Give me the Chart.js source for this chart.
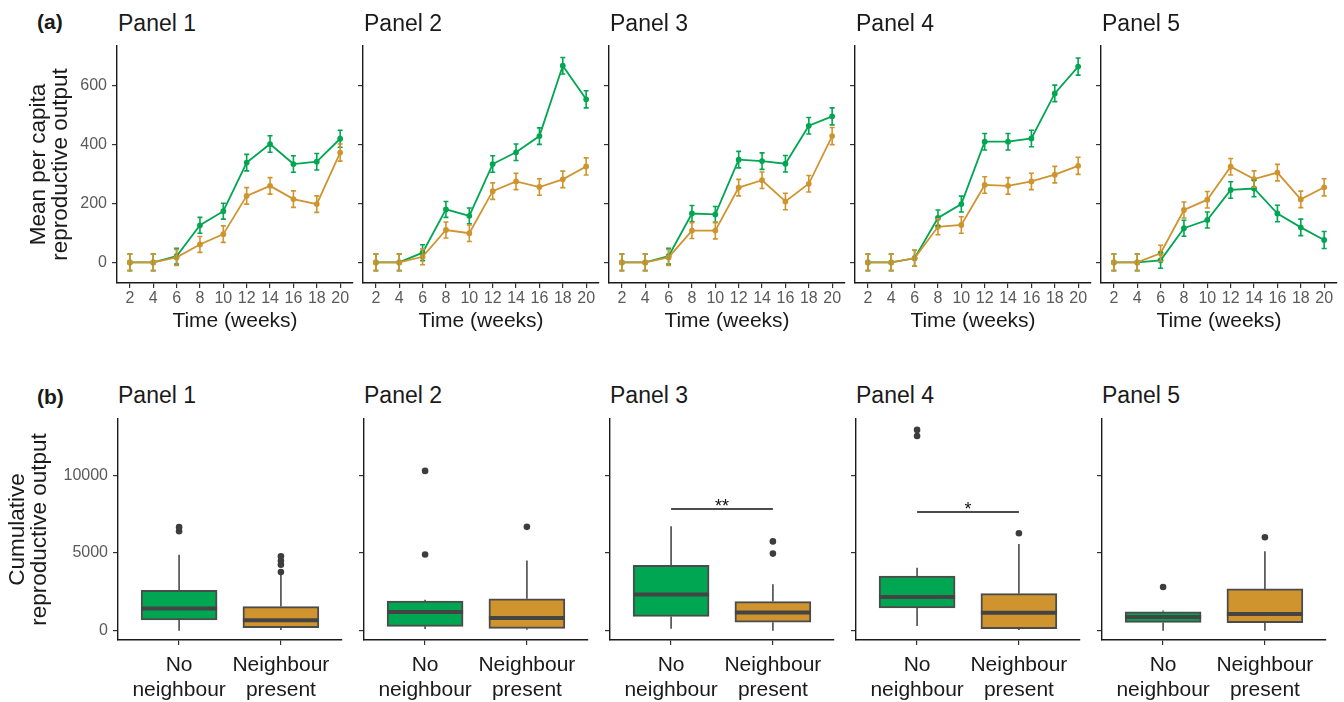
<!DOCTYPE html>
<html>
<head>
<meta charset="utf-8">
<script src="https://cdn.jsdelivr.net/npm/chart.js@4.4.1/dist/chart.umd.min.js"></script>
<style>
  body { margin: 0; background: #fff; font-family: "Liberation Sans", Arial, sans-serif; }
  #wrap { position: relative; width: 1344px; height: 702px; overflow: hidden; }
  canvas { position: absolute; }
  .lbl { position: absolute; white-space: nowrap; color: #1a1a1a; }
  .tag { font-weight: bold; font-size: 21px; line-height: 21px; }
  .ttl { font-size: 23px; line-height: 23px; }
</style>
</head>
<body>
<div id="wrap"></div>
<script>
// ---- data: (a) mean per capita output over time ----
const weeks = [2, 4, 6, 8, 10, 12, 14, 16, 18, 20];
const lineTicks = [0, 200, 400, 600];
const panelNames = ['Panel 1', 'Panel 2', 'Panel 3', 'Panel 4', 'Panel 5'];

const green1 = [0, 0, 21, 126, 174, 339, 402, 334, 342, 420];
const orange1 = [0, 0, 17, 61, 96, 226, 260, 215, 198, 373];
const green2 = [0, 0, 33, 180, 158, 334, 374, 429, 668, 554];
const orange2 = [0, 0, 19, 110, 99, 242, 275, 256, 282, 326];
const green3 = [0, 0, 21, 166, 163, 349, 344, 335, 464, 496];
const orange3 = [0, 0, 17, 108, 108, 254, 279, 207, 267, 429];
const green4 = [0, 0, 14, 151, 198, 410, 410, 421, 574, 665];
const orange4 = [0, 0, 14, 121, 127, 263, 260, 275, 298, 328];
const green5 = [0, 0, 7, 116, 144, 246, 251, 166, 119, 76];
const orange5 = [0, 0, 31, 178, 213, 325, 283, 305, 214, 255];

// standard errors (half length of the error bars)
const greenSE = [28, 28, 27, 27, 27, 28, 28, 28, 28, 29];
const orangeSE = [28, 28, 27, 27, 28, 28, 28, 28, 28, 29];

// ---- data: (b) cumulative output boxplots: [low whisker, q1, median, q3, high whisker] ----
const groups = [['No', 'neighbour'], ['Neighbour', 'present']];
const boxTicks = [0, 5000, 10000];
const boxNone = [
  [0, 700, 1420, 2590, 4880],
  [100, 280, 1200, 1905, 1990],
  [130, 915, 2320, 4210, 6720],
  [300, 1460, 2170, 3520, 4055],
  [0, 530, 875, 1215, 1300]
];
const boxNeighbour = [
  [40, 195, 670, 1550, 3600],
  [60, 150, 815, 2055, 4520],
  [0, 550, 1170, 1870, 2980],
  [40, 130, 1160, 2380, 5580],
  [0, 510, 1065, 2685, 5115]
];
const outNone = [[6400, 6660], [4900, 10280], [], [12530, 12920], [2815]];
const outNeighbour = [[3770, 4245, 4500, 4785], [6680], [4960, 5745], [6270], [6010]];
const sigStars = ['', '', '**', '*', ''];
const sigHeight = [null, null, 7830, 7640, null];

const greens = [green1, green2, green3, green4, green5];
const oranges = [orange1, orange2, orange3, orange4, orange5];

// ---- look ----
const FONT = '"Liberation Sans", Arial, Helvetica, sans-serif';
Chart.defaults.font.family = FONT;
const GREEN = '#00A651';
const ORANGE = '#D0942F';
const BOXLINE = '#4b4b4b';
const wrap = document.getElementById('wrap');

function addCanvas(left, top, w, h) {
  const c = document.createElement('canvas');
  c.width = w; c.height = h;
  c.style.left = left + 'px'; c.style.top = top + 'px';
  c.style.width = w + 'px'; c.style.height = h + 'px';
  wrap.appendChild(c);
  return c;
}

function addText(txt, cls, left, top) {
  const d = document.createElement('div');
  d.className = 'lbl ' + cls;
  d.textContent = txt;
  d.style.left = left + 'px';
  d.style.top = top + 'px';
  wrap.appendChild(d);
}

function yAxis(first, range, ticks, title, titlePad, titleLh, yw) {
  return {
    type: 'linear', min: range[0], max: range[1],
    afterBuildTicks: s => { s.ticks = ticks.map(v => ({ value: v })); },
    // fixed width, and no extra room for label overhang so every panel lines up
    afterFit: s => { s.width = yw; s.paddingTop = 0; s.paddingBottom = 0; },
    border: { display: true, color: '#1a1a1a', width: 1.4 },
    grid: { drawOnChartArea: false, drawTicks: true, tickLength: 5, color: '#333', lineWidth: 1.2 },
    ticks: { display: first, color: '#5a5a5a', padding: 5, font: { size: 16 }, callback: v => String(v) },
    title: { display: first, text: title, color: '#1a1a1a', font: { size: 22.5, lineHeight: titleLh }, padding: { top: titlePad, bottom: 0 } }
  };
}

// error bars for the time series
const errorBars = {
  id: 'errorBars',
  afterDatasetsDraw(chart) {
    const { ctx, scales: { x, y } } = chart;
    ctx.save();
    chart.data.datasets.slice().reverse().forEach(ds => {
      ctx.strokeStyle = ds.borderColor;
      ctx.lineWidth = 1.6;
      ds.data.forEach((p, i) => {
        const px = x.getPixelForValue(p.x);
        const lo = y.getPixelForValue(p.y - ds.errors[i]);
        const hi = y.getPixelForValue(p.y + ds.errors[i]);
        ctx.beginPath();
        ctx.moveTo(px, lo); ctx.lineTo(px, hi);
        ctx.moveTo(px - 2.5, lo); ctx.lineTo(px + 2.5, lo);
        ctx.moveTo(px - 2.5, hi); ctx.lineTo(px + 2.5, hi);
        ctx.stroke();
      });
    });
    ctx.restore();
  }
};

// whiskers, medians and significance bracket for the boxplots
const boxExtras = {
  id: 'boxExtras',
  beforeDatasetsDraw(chart, args, opts) {
    const { ctx, scales: { x, y } } = chart;
    ctx.save();
    ctx.strokeStyle = BOXLINE;
    ctx.lineWidth = 1.6;
    opts.stats.forEach((s, i) => {
      const px = x.getPixelForValue(i + 1);
      ctx.beginPath();
      ctx.moveTo(px, y.getPixelForValue(s[0])); ctx.lineTo(px, y.getPixelForValue(s[1]));
      ctx.moveTo(px, y.getPixelForValue(s[3])); ctx.lineTo(px, y.getPixelForValue(s[4]));
      ctx.stroke();
    });
    ctx.restore();
  },
  afterDatasetsDraw(chart, args, opts) {
    const { ctx, scales: { x, y } } = chart;
    ctx.save();
    ctx.strokeStyle = '#444';
    ctx.lineWidth = 4;
    opts.stats.forEach((s, i) => {
      const px = x.getPixelForValue(i + 1);
      const py = y.getPixelForValue(s[2]);
      ctx.beginPath();
      ctx.moveTo(px - opts.half, py); ctx.lineTo(px + opts.half, py);
      ctx.stroke();
    });
    if (opts.stars) {
      const py = y.getPixelForValue(opts.sigY);
      const x1 = x.getPixelForValue(1), x2 = x.getPixelForValue(2);
      ctx.strokeStyle = '#111';
      ctx.lineWidth = 1.6;
      ctx.beginPath();
      ctx.moveTo(x1, py); ctx.lineTo(x2, py);
      ctx.stroke();
      ctx.fillStyle = '#111';
      ctx.font = '18px ' + FONT;
      ctx.textAlign = 'center';
      ctx.textBaseline = 'alphabetic';
      ctx.fillText(opts.stars, (x1 + x2) / 2, py + 3);
    }
    ctx.restore();
  }
};

const toXY = vals => weeks.map((w, i) => ({ x: w, y: vals[i] }));

addText('(a)', 'tag', 37, 10.8);
addText('(b)', 'tag', 37, 385.8);

// ---- (a) row ----
for (let i = 0; i < 5; i++) {
  const areaLeft = 117 + 246 * i;
  const yw = i === 0 ? 117 : 10;
  const cv = addCanvas(areaLeft - yw, 40, yw + 236 + 8, 295);
  addText(panelNames[i], 'ttl', areaLeft + 1, 11.5);
  new Chart(cv, {
    type: 'line',
    data: {
      datasets: [
        { data: toXY(oranges[i]), errors: orangeSE, borderColor: ORANGE, backgroundColor: ORANGE,
          borderWidth: 1.8, pointRadius: 2, pointHoverRadius: 2 },
        { data: toXY(greens[i]), errors: greenSE, borderColor: GREEN, backgroundColor: GREEN,
          borderWidth: 1.8, pointRadius: 2, pointHoverRadius: 2 }
      ]
    },
    options: {
      responsive: false, animation: false, devicePixelRatio: 1,
      layout: { padding: { top: 6, right: 8, bottom: 0, left: 0 } },
      plugins: { legend: { display: false }, tooltip: { enabled: false } },
      scales: {
        x: {
          type: 'linear', min: 0.9, max: 21.1, offset: false,
          afterBuildTicks: s => { s.ticks = weeks.map(v => ({ value: v })); },
          afterFit: s => { s.height = 52; },
          border: { display: true, color: '#1a1a1a', width: 1.4 },
          grid: { offset: false, drawOnChartArea: false, drawTicks: true, tickLength: 5, color: '#333', lineWidth: 1.2 },
          ticks: { color: '#5a5a5a', padding: 1, autoSkip: false, maxRotation: 0, font: { size: 16 }, callback: v => String(v) },
          title: { display: true, text: 'Time (weeks)', color: '#1a1a1a', font: { size: 21 }, padding: { top: 0, bottom: 1.4 } }
        },
        y: yAxis(i === 0, [-70, 735], lineTicks, ['Mean per capita', 'reproductive output'], 27.25, 1.0, yw)
      }
    },
    plugins: [errorBars]
  });
}

// ---- (b) row ----
for (let i = 0; i < 5; i++) {
  const areaLeft = 118 + 246 * i;
  const yw = i === 0 ? 118 : 10;
  const cv = addCanvas(areaLeft - yw, 413, yw + 224 + 8, 289);
  addText(panelNames[i], 'ttl', areaLeft, 383.5);
  const outliers = outNone[i].map(v => ({ x: 1, y: v })).concat(outNeighbour[i].map(v => ({ x: 2, y: v })));
  const stats = [boxNone[i], boxNeighbour[i]];
  new Chart(cv, {
    type: 'bar',
    data: {
      datasets: [
        { type: 'scatter', data: outliers, pointRadius: 3.3, pointHoverRadius: 3.3,
          backgroundColor: '#3d3d3d', borderWidth: 0, order: 0 },
        { type: 'bar', data: stats.map((s, k) => ({ x: k + 1, y: [s[1], s[3]] })),
          backgroundColor: [GREEN, ORANGE], borderColor: BOXLINE, borderWidth: 2,
          borderSkipped: false, barThickness: 76, grouped: false, order: 1 }
      ]
    },
    options: {
      responsive: false, animation: false, devicePixelRatio: 1,
      layout: { padding: { top: 6, right: 8, bottom: 0, left: 0 } },
      plugins: {
        legend: { display: false }, tooltip: { enabled: false },
        boxExtras: { stats: stats, half: 38, stars: sigStars[i], sigY: sigHeight[i] }
      },
      scales: {
        x: {
          type: 'linear', min: 0.4, max: 2.6, offset: false,
          afterBuildTicks: s => { s.ticks = [{ value: 1 }, { value: 2 }]; },
          afterFit: s => { s.height = 62; },
          border: { display: true, color: '#1a1a1a', width: 1.4 },
          grid: { offset: false, drawOnChartArea: false, drawTicks: true, tickLength: 5, color: '#333', lineWidth: 1.2 },
          ticks: { color: '#1a1a1a', padding: 7.4, autoSkip: false, maxRotation: 0,
                   font: { size: 21, lineHeight: 1.2 }, callback: v => groups[v - 1] }
        },
        y: yAxis(i === 0, [-600, 13620], boxTicks, ['Cumulative', 'reproductive output'], 6.5, 0.98, yw)
      }
    },
    plugins: [boxExtras]
  });
}
</script>
</body>
</html>
